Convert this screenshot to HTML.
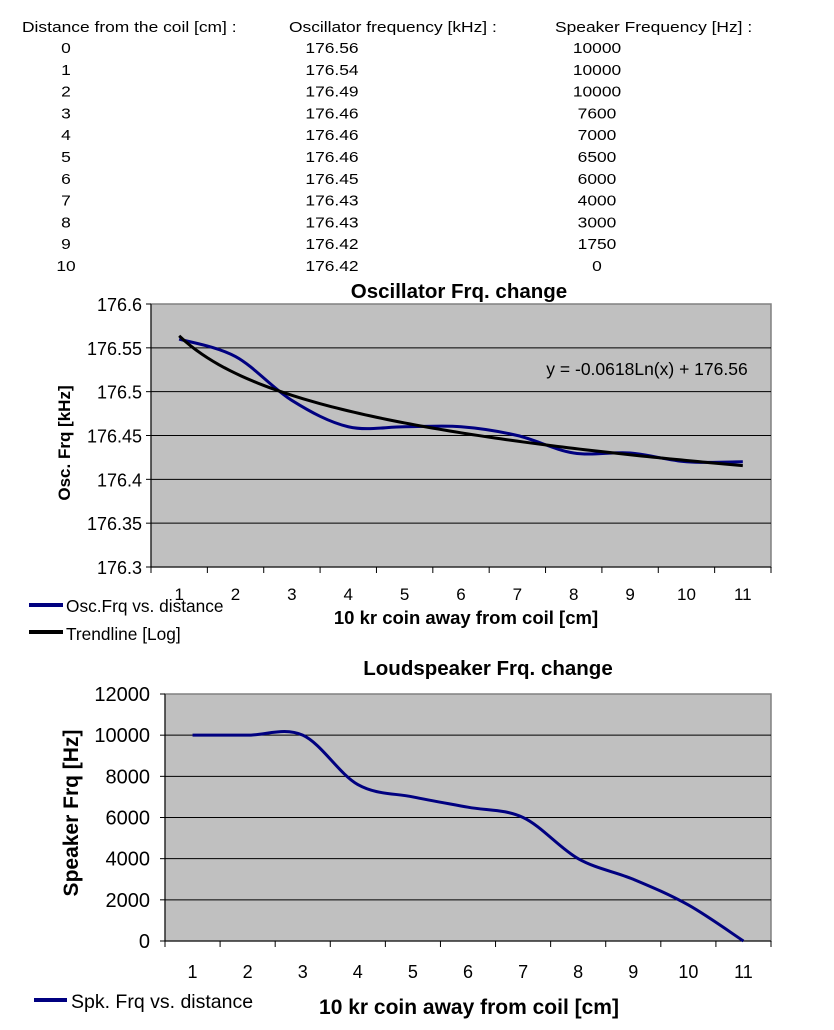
<!DOCTYPE html>
<html><head><meta charset="utf-8"><style>
body{margin:0;width:834px;height:1030px;background:#fff;font-family:"Liberation Sans",Arial,sans-serif;overflow:hidden}
svg{position:absolute;left:0;top:0}
</style></head><body>
<svg id="s" width="834" height="1030" xmlns="http://www.w3.org/2000/svg" font-family="Liberation Sans, Arial, sans-serif"></svg>
<script>
const distances=[0,1,2,3,4,5,6,7,8,9,10];
const oscFreq=[176.56,176.54,176.49,176.46,176.46,176.46,176.45,176.43,176.43,176.42,176.42];
const spkFreq=[10000,10000,10000,7600,7000,6500,6000,4000,3000,1750,0];
const xLabels=["1","2","3","4","5","6","7","8","9","10","11"];
const oscTicks=[176.3,176.35,176.4,176.45,176.5,176.55,176.6];
const oscTickLabels=["176.3","176.35","176.4","176.45","176.5","176.55","176.6"];
const spkTicks=[0,2000,4000,6000,8000,10000,12000];

const s=document.getElementById('s');
const NS='http://www.w3.org/2000/svg';
function mk(tag,attrs,parent){const e=document.createElementNS(NS,tag);for(const k in attrs)e.setAttribute(k,attrs[k]);(parent||s).appendChild(e);return e;}
function txt(str,x,y,size,anchor,weight,parent){const t=mk('text',{x:x,y:y,'font-size':size,'text-anchor':anchor||'start','font-weight':weight||'normal',fill:'#000'},parent);t.textContent=str;return t;}
function wtxt(str,x,y,size,anchor,parent){const t=mk('text',{x:0,y:0,'font-size':size,'text-anchor':anchor||'start',fill:'#000',transform:'translate('+x+','+y+') scale(1.16,1)'},parent);t.textContent=str;return t;}
function smooth(pts){let d='M'+pts[0][0]+','+pts[0][1];for(let i=0;i<pts.length-1;i++){const p0=pts[Math.max(0,i-1)],p1=pts[i],p2=pts[i+1],p3=pts[Math.min(pts.length-1,i+2)];const c1=[p1[0]+(p2[0]-p0[0])/6,p1[1]+(p2[1]-p0[1])/6];const c2=[p2[0]-(p3[0]-p1[0])/6,p2[1]-(p3[1]-p1[1])/6];d+=' C'+c1+' '+c2+' '+p2;}return d;}

// table
const tbl=mk('g',{});


wtxt('Distance from the coil [cm] :',22,32,15,'start',tbl);
wtxt('Oscillator frequency [kHz] :',289,32,15,'start',tbl);
wtxt('Speaker Frequency [Hz] :',555,32,15,'start',tbl);
distances.forEach((d,i)=>{const y=53+i*21.8;
 wtxt(String(d),66,y,15,'middle',tbl);
 wtxt(oscFreq[i].toFixed(2),332,y,15,'middle',tbl);
 wtxt(String(spkFreq[i]),597,y,15,'middle',tbl);});

// chart 1
const c1=mk('g',{});


const L1=151,R1=771,T1=304,B1=567;
const x1=i=>L1+(i+0.5)*(R1-L1)/xLabels.length;
const y1=v=>B1-(v-176.3)/0.3*(B1-T1);
mk('rect',{x:L1,y:T1,width:R1-L1,height:B1-T1,fill:'#c0c0c0',stroke:'#808080','stroke-width':1.5},c1);
oscTicks.forEach((v,i)=>{const y=y1(v);if(i>0&&i<oscTicks.length-1)mk('line',{x1:L1,x2:R1,y1:y,y2:y,stroke:'#000','stroke-width':1},c1);mk('line',{x1:L1-5,x2:L1,y1:y,y2:y,stroke:'#000'},c1);txt(oscTickLabels[i],L1-9,y+7,18,'end','normal',c1);});
mk('line',{x1:L1,x2:L1,y1:T1,y2:B1+5,stroke:'#000'},c1);
mk('line',{x1:L1,x2:R1,y1:B1,y2:B1,stroke:'#000'},c1);
for(let i=0;i<=xLabels.length;i++){const x=L1+i*(R1-L1)/xLabels.length;mk('line',{x1:x,x2:x,y1:B1,y2:B1+6,stroke:'#000'},c1);}
xLabels.forEach((l,i)=>txt(l,x1(i),600,17,'middle','normal',c1));
txt('Oscillator Frq. change',459,298,20.5,'middle','bold',c1);
txt('10 kr coin away from coil [cm]',466,624,18.5,'middle','bold',c1);
const yt1=txt('Osc. Frq [kHz]',0,0,17,'middle','bold',c1);yt1.setAttribute('transform','translate(70,443) rotate(-90)');
let n=oscFreq.length,sx=0,sy=0,sxx=0,sxy=0;oscFreq.forEach((v,i)=>{const lx=Math.log(i+1);sx+=lx;sy+=v;sxx+=lx*lx;sxy+=lx*v;});
const slope=(n*sxy-sx*sy)/(n*sxx-sx*sx),icpt=(sy-slope*sx)/n;
let tp=[];for(let t=1;t<=11.001;t+=0.1){tp.push([x1(t-1),y1(slope*Math.log(t)+icpt)]);}
const oscPath=mk('path',{d:smooth(oscFreq.map((v,i)=>[x1(i),y1(v)])),fill:'none',stroke:'#000080','stroke-width':3},c1);


const trend=mk('path',{d:'M'+tp.map(p=>p.join(',')).join(' L'),fill:'none',stroke:'#000','stroke-width':3},c1);


txt('y = -0.0618Ln(x) + 176.56',647,375,17.5,'middle','normal',c1);
mk('line',{x1:29,x2:63,y1:605,y2:605,stroke:'#000080','stroke-width':4},c1);
txt('Osc.Frq vs. distance',66,612,17.3,'start','normal',c1);
mk('line',{x1:29,x2:63,y1:632,y2:632,stroke:'#000','stroke-width':4},c1);
txt('Trendline [Log]',66,640,17.3,'start','normal',c1);

// chart 2
const c2=mk('g',{});


const L2=165,R2=771,T2=694,B2=941;
const x2=i=>L2+(i+0.5)*(R2-L2)/xLabels.length;
const y2=v=>B2-v/12000*(B2-T2);
mk('rect',{x:L2,y:T2,width:R2-L2,height:B2-T2,fill:'#c0c0c0',stroke:'#808080','stroke-width':1.5},c2);
spkTicks.forEach((v,i)=>{const y=y2(v);if(i>0&&i<spkTicks.length-1)mk('line',{x1:L2,x2:R2,y1:y,y2:y,stroke:'#000'},c2);mk('line',{x1:L2-5,x2:L2,y1:y,y2:y,stroke:'#000'},c2);txt(String(v),L2-15,y+7,20,'end','normal',c2);});
mk('line',{x1:L2,x2:L2,y1:T2,y2:B2+5,stroke:'#000'},c2);
mk('line',{x1:L2,x2:R2,y1:B2,y2:B2,stroke:'#000'},c2);
for(let i=0;i<=xLabels.length;i++){const x=L2+i*(R2-L2)/xLabels.length;mk('line',{x1:x,x2:x,y1:B2,y2:B2+6,stroke:'#000'},c2);}
xLabels.forEach((l,i)=>txt(l,x2(i),978,18,'middle','normal',c2));
txt('Loudspeaker Frq. change',488,675,20.5,'middle','bold',c2);
txt('10 kr coin away from coil [cm]',469,1014,21,'middle','bold',c2);
const yt2=txt('Speaker Frq [Hz]',0,0,21,'middle','bold',c2);yt2.setAttribute('transform','translate(78,813) rotate(-90)');
const spkPath=mk('path',{d:smooth(spkFreq.map((v,i)=>[x2(i),y2(v)])),fill:'none',stroke:'#000080','stroke-width':3},c2);


mk('line',{x1:34,x2:67,y1:1000,y2:1000,stroke:'#000080','stroke-width':4},c2);
txt('Spk. Frq vs. distance',71,1008,19.5,'start','normal',c2);
</script>
</body></html>
